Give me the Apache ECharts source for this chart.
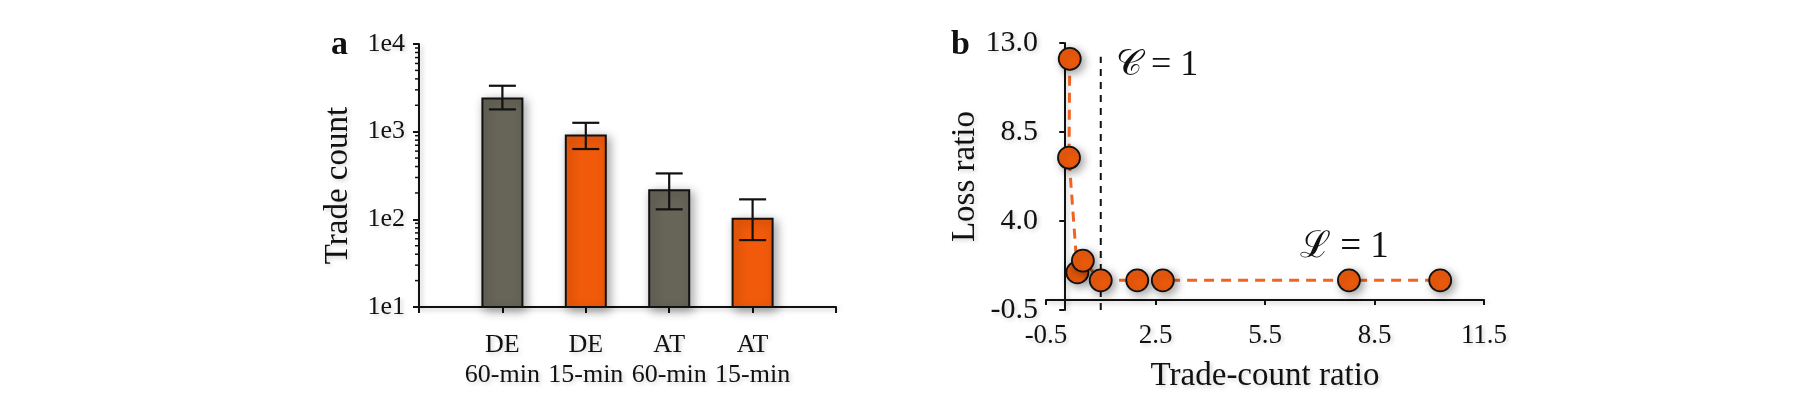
<!DOCTYPE html>
<html>
<head>
<meta charset="utf-8">
<script src="https://cdn.jsdelivr.net/npm/echarts@6/dist/echarts.min.js"></script>
<style>
html,body{margin:0;padding:0;background:#fff;}
#chart{width:1820px;height:399px;}
</style>
</head>
<body>
<div id="chart"></div>
<script>
// ---------- Panel a data ----------
const categories = ['DE\n60-min', 'DE\n15-min', 'AT\n60-min', 'AT\n15-min'];
const tradeCount = [2460, 931, 221, 104];
const errLow = [1795, 634, 130, 58];
const errHigh = [3340, 1262, 334, 169];
const barColors = ['#676458', '#f05a0a', '#676458', '#f05a0a'];
const yTicksA = [10, 100, 1000, 10000];
const yTickLabelsA = ['1e1', '1e2', '1e3', '1e4'];

// ---------- Panel b data ----------
const tradeCountRatio = [0.15, 0.13, 0.36, 0.51, 1.0, 2.0, 2.7, 7.8, 10.3];
const lossRatio = [12.2, 7.2, 1.4, 2.0, 1.0, 1.0, 1.0, 1.0, 1.0];
const xTicksB = [-0.5, 2.5, 5.5, 8.5, 11.5];
const yTicksB = [-0.5, 4.0, 8.5, 13.0];
const cLineX = [1, 1];
const cLineY = [-0.5, 12.3];

const FONT = "'Liberation Serif','Times New Roman','DejaVu Serif',serif";
const INK = '#111';
const SH = 'rgba(0,0,0,0.35)';
const TSH = { textShadowColor: 'rgba(0,0,0,0.18)', textShadowBlur: 4, textShadowOffsetX: 2, textShadowOffsetY: 2 };

const minorA = [];
[10, 100, 1000].forEach(d => { for (let k = 2; k <= 9; k++) minorA.push(d * k); });

const chart = echarts.init(document.getElementById('chart'));

const axisLineStyle = { color: INK, width: 2, shadowColor: 'rgba(0,0,0,0.25)', shadowBlur: 5, shadowOffsetX: 2, shadowOffsetY: 2 };
const labelStyle = Object.assign({ color: INK, fontFamily: FONT, fontSize: 26 }, TSH);
const nameStyle = Object.assign({ color: INK, fontFamily: FONT, fontSize: 33 }, TSH);

const option = {
  animation: false,
  backgroundColor: '#fff',
  grid: [
    { left: 419, right: 984, top: 44, bottom: 92 },
    { left: 1046, right: 336, top: 43, bottom: 89 }
  ],
  xAxis: [
    {
      type: 'category', gridIndex: 0, boundaryGap: false,
      data: [''].concat(categories, ['']),
      axisLine: { lineStyle: axisLineStyle },
      axisTick: { length: 6, lineStyle: { color: INK, width: 2 }, interval: 0 },
      axisLabel: Object.assign({ interval: 0, margin: 23, lineHeight: 30 }, labelStyle),
      splitLine: { show: false }
    },
    {
      type: 'value', gridIndex: 1, min: -0.5, max: 11.5,
      axisLine: { lineStyle: axisLineStyle },
      axisTick: { length: 5, customValues: xTicksB, lineStyle: { color: INK, width: 2 } },
      axisLabel: Object.assign({ customValues: xTicksB, margin: 12, formatter: v => v.toFixed(1) }, labelStyle, { fontSize: 27 }),
      splitLine: { show: false },
      name: 'Trade-count ratio', nameLocation: 'middle', nameGap: 50,
      nameTextStyle: nameStyle
    }
  ],
  yAxis: [
    {
      type: 'log', logBase: 10, gridIndex: 0, min: 10, max: 10000,
      axisLine: { show: true, lineStyle: axisLineStyle },
      axisTick: { show: true, length: 6, customValues: yTicksA, lineStyle: { color: INK, width: 2 } },
      axisLabel: Object.assign({ customValues: yTicksA, margin: 14,
        formatter: v => yTickLabelsA[yTicksA.indexOf(Math.round(v))] || '' }, labelStyle),
      splitLine: { show: false },
      name: 'Trade count', nameLocation: 'middle', nameGap: 64, nameRotate: 90,
      nameTextStyle: Object.assign({ padding: [0, 20, 0, 0] }, nameStyle)
    },
    {
      type: 'value', gridIndex: 1, min: -0.5, max: 13,
      axisLine: { show: true, lineStyle: axisLineStyle },
      axisTick: { show: true, length: 5, customValues: yTicksB, lineStyle: { color: INK, width: 2 } },
      axisLabel: Object.assign({ customValues: yTicksB, margin: 8, formatter: v => v.toFixed(1) }, labelStyle, { fontSize: 30 }),
      splitLine: { show: false },
      name: 'Loss ratio', nameLocation: 'middle', nameGap: 64, nameRotate: 90,
      nameTextStyle: nameStyle
    }
  ],
  series: [
    {
      type: 'bar', xAxisIndex: 0, yAxisIndex: 0, barWidth: 42, clip: true,
      data: ['-'].concat(tradeCount.map((v, i) => ({
        value: v,
        itemStyle: { color: barColors[i] }
      })), ['-']),
      itemStyle: { borderColor: INK, borderWidth: 2, shadowColor: SH, shadowBlur: 10, shadowOffsetX: 3, shadowOffsetY: 3 }
    },
    {
      // error bars
      type: 'custom', xAxisIndex: 0, yAxisIndex: 0,
      data: tradeCount.map((v, i) => [i + 1, errLow[i], errHigh[i]]),
      encode: { x: 0, y: [1, 2] },
      renderItem: function (params, api) {
        const lo = api.coord([api.value(0), api.value(1)]);
        const hi = api.coord([api.value(0), api.value(2)]);
        const half = 13.5;
        const st = { stroke: INK, lineWidth: 2.2 };
        return {
          type: 'group',
          children: [
            { type: 'line', shape: { x1: lo[0], y1: lo[1], x2: hi[0], y2: hi[1] }, style: st },
            { type: 'line', shape: { x1: lo[0] - half, y1: lo[1], x2: lo[0] + half, y2: lo[1] }, style: st },
            { type: 'line', shape: { x1: hi[0] - half, y1: hi[1], x2: hi[0] + half, y2: hi[1] }, style: st }
          ]
        };
      },
      z: 5
    },
    {
      // minor log ticks on the left axis of panel a
      type: 'custom', xAxisIndex: 0, yAxisIndex: 0,
      data: minorA.map(v => [0, v]),
      encode: { x: 0, y: 1 },
      silent: true,
      renderItem: function (params, api) {
        const p = api.coord([0, api.value(1)]);
        return { type: 'line', shape: { x1: p[0] - 4, y1: p[1], x2: p[0], y2: p[1] }, style: { stroke: INK, lineWidth: 1.5 } };
      },
      z: 6
    },
    {
      type: 'line', xAxisIndex: 1, yAxisIndex: 1,
      data: cLineX.map((x, i) => [x, cLineY[i]]),
      symbol: 'none',
      lineStyle: { color: INK, width: 2, type: [7, 6] },
      z: 1
    },
    {
      type: 'line', xAxisIndex: 1, yAxisIndex: 1,
      data: tradeCountRatio.map((x, i) => [x, lossRatio[i]]),
      symbol: 'circle', symbolSize: 22,
      lineStyle: { color: '#ef6424', width: 3, type: [10, 7] },
      itemStyle: { color: '#ee5b0c', borderColor: INK, borderWidth: 1.8, shadowColor: SH, shadowBlur: 8, shadowOffsetX: 3, shadowOffsetY: 3 },
      z: 3
    }
  ],
  graphic: [
    { type: 'text', left: 331, top: 28, style: { text: 'a', font: "bold 34px " + FONT, fill: INK } },
    { type: 'text', left: 951, top: 28, style: { text: 'b', font: "bold 34px " + FONT, fill: INK } },
    { type: 'text', left: 1116, top: 48, style: { text: '𝒞 = 1', font: "36px " + FONT, fill: INK } },
    { type: 'text', left: 1300, top: 229, style: { text: 'ℒ = 1', font: "37px " + FONT, fill: INK } }
  ]
};
chart.setOption(option);
</script>
</body>
</html>
